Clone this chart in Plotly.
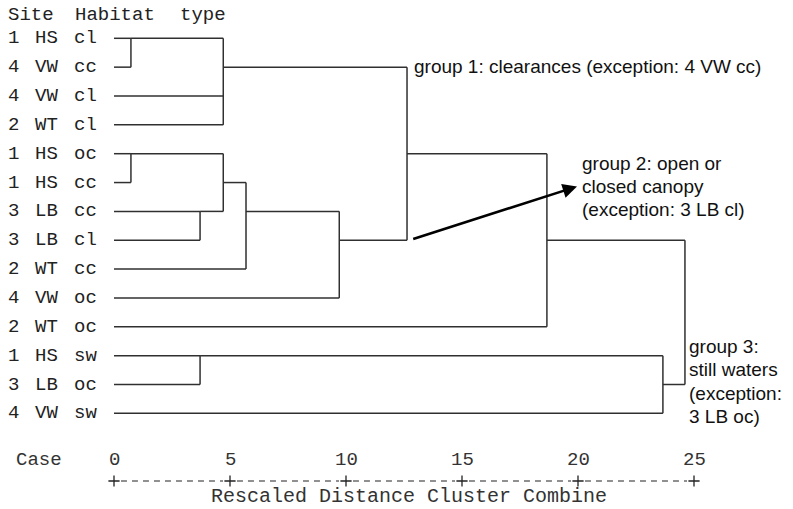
import math
import plotly.graph_objects as go

# ---------------- data ----------------
sites = [1, 4, 4, 2, 1, 1, 3, 3, 2, 4, 2, 1, 3, 4]
habitats = ["HS", "VW", "VW", "WT", "HS", "HS", "LB", "LB", "WT", "VW", "WT", "HS", "LB", "VW"]
types = ["cl", "cc", "cl", "cl", "oc", "cc", "cc", "cl", "cc", "oc", "oc", "sw", "oc", "sw"]

# agglomeration schedule (leaf ids 0..13, new clusters 14..)
merge_left = [0, 2, 14, 4, 6, 17, 19, 20, 16, 22, 11, 24, 23]
merge_right = [1, 3, 15, 5, 7, 18, 8, 9, 21, 10, 12, 13, 25]
merge_dist = [0.73, 4.71, 4.71, 0.73, 3.71, 4.71, 5.69, 9.71, 12.63, 18.66, 3.71, 23.66, 24.61]

tick_values = [0, 5, 10, 15, 20, 25]
tick_labels = ["0", "5", "10", "15", "20", "25"]

group1_lines = ["group 1: clearances (exception: 4 VW cc)"]
group2_lines = ["group 2: open or", "closed canopy", "(exception: 3 LB cl)"]
group3_lines = ["group 3:", "still waters", "(exception:", "3 LB oc)"]

# ---------------- geometry helpers ----------------
W, H = 793, 509
PX0, PXU = 114.0, 23.2     # screen pixel of distance 0, pixels per unit
PY0, PYU = 38.3, 28.85     # screen pixel of row 0, pixels per row

x_range = [-PX0 / PXU, (W - PX0) / PXU]
y_range = [(H - PY0) / PYU, -PY0 / PYU]   # reversed


def row_of_px(py):
    return (py - PY0) / PYU


def dist_of_px(px):
    return (px - PX0) / PXU


def paper_x(px):
    return px / W


n = len(sites)
node_x = {i: 0.0 for i in range(n)}
node_y = {i: float(i) for i in range(n)}

xs, ys = [], []
for k, (a, b, d) in enumerate(zip(merge_left, merge_right, merge_dist)):
    new = n + k
    xs += [node_x[a], d, None, node_x[b], d, None, d, d, None]
    ys += [node_y[a], node_y[a], None, node_y[b], node_y[b], None, node_y[a], node_y[b], None]
    node_x[new] = d
    node_y[new] = float(math.floor((node_y[a] + node_y[b]) / 2))

fig = go.Figure()
fig.add_trace(go.Scatter(
    x=xs, y=ys, mode="lines",
    line=dict(color="#303030", width=1.5),
    hoverinfo="skip", showlegend=False,
))

# dashed scale line with "+" ticks
axis_row = row_of_px(481)
sx, sy = [], []
for t0, t1 in zip(tick_values[:-1], tick_values[1:]):
    sx += [t0 + 0.3, t1 - 0.3, None]
    sy += [axis_row, axis_row, None]
fig.add_trace(go.Scatter(
    x=sx, y=sy, mode="lines",
    line=dict(color="#222", width=1.2, dash="6px,5px"),
    hoverinfo="skip", showlegend=False,
))
fig.add_trace(go.Scatter(
    x=tick_values, y=[axis_row] * len(tick_values), mode="markers",
    marker=dict(symbol="cross-thin", size=8, line=dict(color="#222", width=1.3)),
    hoverinfo="skip", showlegend=False,
))

mono = "Liberation Mono, Courier New, monospace"
sans = "Liberation Sans, Arial, sans-serif"
ann = []

# header
hdr_row = row_of_px(15)
for txt, px in [("Site", 7), ("Habitat", 74), ("type", 179)]:
    ann.append(dict(x=paper_x(px), xref="paper", y=hdr_row, yref="y", text=txt,
                    xanchor="left", yanchor="middle", showarrow=False, borderpad=0,
                    font=dict(family=mono, size=19, color="#222")))

# row labels
for i in range(n):
    for txt, px in [(str(sites[i]), 6), (habitats[i], 33), (types[i], 72)]:
        ann.append(dict(x=paper_x(px), xref="paper", y=i, yref="y", text=txt,
                        xanchor="left", yanchor="middle", showarrow=False,
                        font=dict(family=mono, size=19, color="#222")))

# tick numbers
num_row = row_of_px(460)
for t, lab in zip(tick_values, tick_labels):
    ann.append(dict(x=t, xref="x", y=num_row, yref="y", text=lab,
                    xanchor="center", yanchor="middle", showarrow=False,
                    font=dict(family=mono, size=19, color="#333")))
ann.append(dict(x=paper_x(14), xref="paper", y=num_row, yref="y", text="Case",
                xanchor="left", yanchor="middle", showarrow=False,
                font=dict(family=mono, size=19, color="#333")))
ann.append(dict(x=dist_of_px(409), xref="x", y=row_of_px(496), yref="y",
                text="Rescaled Distance Cluster Combine",
                xanchor="center", yanchor="middle", showarrow=False,
                font=dict(family=mono, size=20, color="#333")))

# group labels
gsize = 19


def add_group(lines, px, centers):
    for txt, c in zip(lines, centers):
        ann.append(dict(x=paper_x(px), xref="paper", y=row_of_px(c), yref="y",
                        text=txt, xanchor="left", yanchor="middle", showarrow=False,
                        borderpad=0,
                        font=dict(family=sans, size=gsize, color="#111")))


add_group(group1_lines, 413, [66])
add_group(group2_lines, 581, [163, 186, 209])
add_group(group3_lines, 688, [346, 369.5, 393, 416.5])

# arrow to group 2
ann.append(dict(x=dist_of_px(577), y=row_of_px(186.5), xref="x", yref="y",
                ax=dist_of_px(411.7), ay=row_of_px(239.5), axref="x", ayref="y",
                text="", showarrow=True, arrowhead=2, arrowsize=1.1,
                arrowwidth=2.6, arrowcolor="#000", standoff=0, startstandoff=0))

fig.update_layout(
    width=W, height=H, autosize=False,
    margin=dict(l=0, r=0, t=0, b=0),
    paper_bgcolor="white", plot_bgcolor="white",
    xaxis=dict(range=x_range, visible=False, fixedrange=True),
    yaxis=dict(range=y_range, visible=False, fixedrange=True),
    annotations=ann,
    showlegend=False,
)

fig.write_html("out.html", config={"displayModeBar": False, "staticPlot": True},
               post_script="document.body.style.margin='0px';")
